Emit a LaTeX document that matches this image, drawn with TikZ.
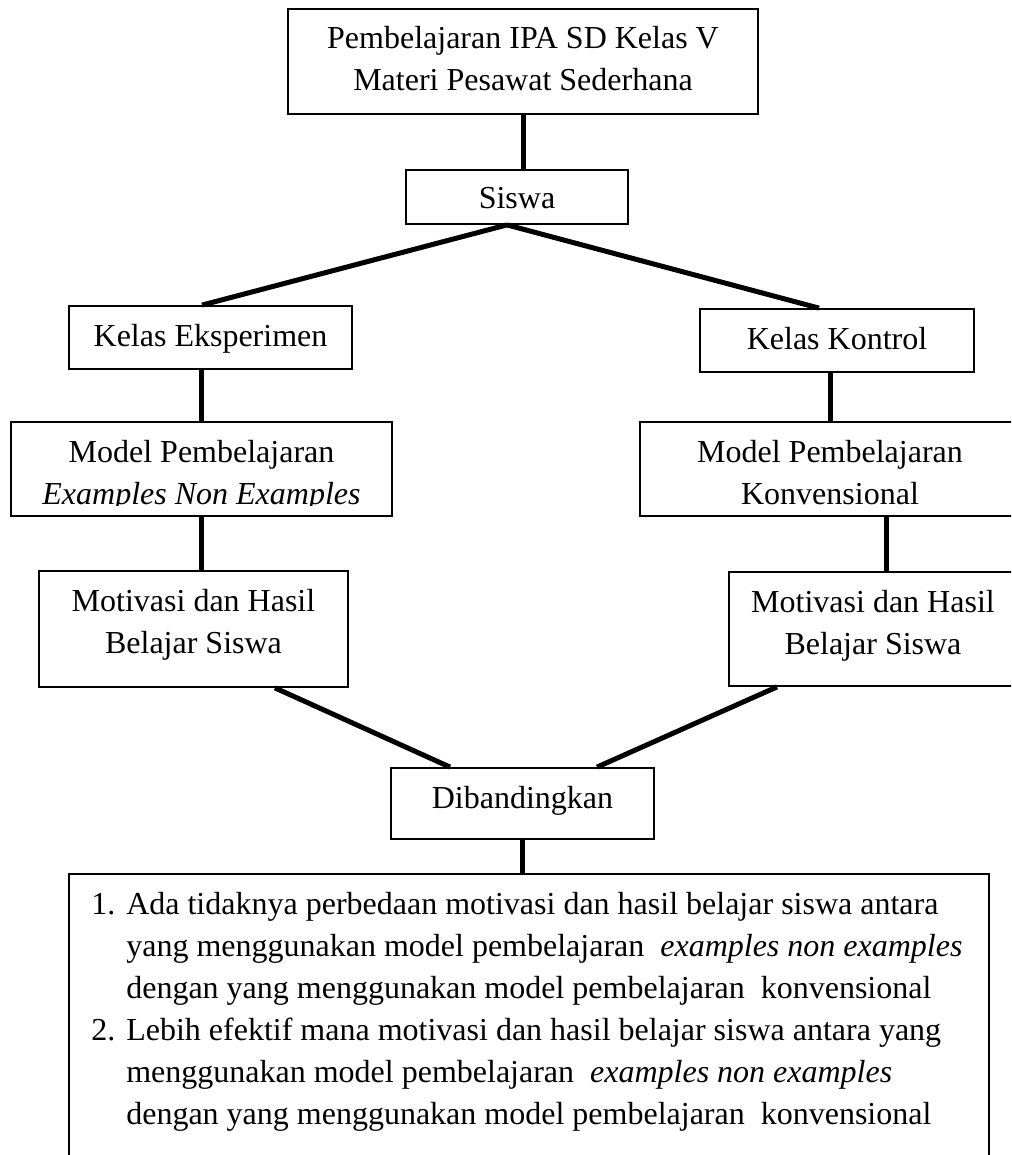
\documentclass[tikz,border=0pt]{standalone}
\usepackage{fontspec}
\setmainfont{Liberation Serif}
\usetikzlibrary{positioning}

\begin{document}
\begin{tikzpicture}[x=1pt, y=-1pt,
    box/.style={draw, line width=1.8pt, inner sep=0pt},
    txt/.style={align=center, inner sep=0pt, font=\fontsize{32}{42}\selectfont},
    link/.style={line width=5pt}]
      \useasboundingbox (0,0) rectangle (1011,1155);
      \clip (0,0) rectangle (1011,1155);

      % kotak
      \node[box, minimum width=470pt, minimum height=105pt] (judul) at (523,61.5) {};
      \node[box, minimum width=222pt, minimum height=54pt] (siswa) at (517,197) {};
      \node[box, minimum width=283pt, minimum height=63pt] (eks) at (210.5,337.5) {};
      \node[box, minimum width=274pt, minimum height=63pt] (kon) at (837,340.5) {};
      \node[box, minimum width=381pt, minimum height=94pt] (meks) at (201.5,469) {};
      \node[box, minimum width=380pt, minimum height=94pt] (mkon) at (830,469) {};
      \node[box, minimum width=309pt, minimum height=116pt] (heks) at (193.5,629) {};
      \node[box, minimum width=288pt, minimum height=114pt] (hkon) at (873,629) {};
      \node[box, minimum width=263pt, minimum height=71pt] (banding) at (522.5,803.5) {};
      \node[box, minimum width=920pt, minimum height=300pt] (hasil) at (529,1024) {};

      % teks
      \node[txt, below=18.5pt of judul.north] (tjudul) {Pembelajaran IPA SD Kelas V\\Materi Pesawat Sederhana};
      \node[txt, below=18.5pt of siswa.north] (tsiswa) {Siswa};
      \node[txt, below=18.5pt of eks.north] (teks) {Kelas Eksperimen};
      \node[txt, below=18.5pt of kon.north] (tkon) {Kelas Kontrol};
      \begin{scope}
        \clip (0,400) rectangle (1011,505);
        \node[txt, below=18.5pt of meks.north] (tmeks) {Model Pembelajaran\\\textit{Examples Non Examples}};
      \end{scope}
      \node[txt, below=18.5pt of mkon.north] (tmkon) {Model Pembelajaran\\Konvensional};
      \node[txt, below=18.5pt of heks.north] (theks) {Motivasi dan Hasil\\Belajar Siswa};
      \node[txt, below=18.5pt of hkon.north] (thkon) {Motivasi dan Hasil\\Belajar Siswa};
      \node[txt, below=18.5pt of banding.north] (tbanding) {Dibandingkan};
      \node[txt, align=left, below right=11.6pt and 23pt of hasil.north west] (thasil) {%
        \begin{tabular}{@{}l@{}l@{}}
          \makebox[35pt][l]{1.} & Ada tidaknya perbedaan motivasi dan hasil belajar siswa antara\\
           & yang menggunakan model pembelajaran \ \textit{examples non examples}\\
           & dengan yang menggunakan model pembelajaran \ konvensional\\
          \makebox[35pt][l]{2.} & Lebih efektif mana motivasi dan hasil belajar siswa antara yang\\
           & menggunakan model pembelajaran \ \textit{examples non examples}\\
           & dengan yang menggunakan model pembelajaran \ konvensional
        \end{tabular}};

      % garis
      \draw[link] (judul.south) -- (judul.south |- siswa.north);
      \draw[link] ([xshift=-10pt]siswa.south) -- ([xshift=-8.5pt]eks.north);
      \draw[link] ([xshift=-10pt]siswa.south) -- ([xshift=-18pt]kon.north);
      \draw[link] (meks.north |- eks.south) -- (meks.north);
      \draw[link] (mkon.north |- kon.south) -- (mkon.north);
      \draw[link] (meks.south) -- (meks.south |- heks.north);
      \draw[link] ([xshift=13pt]hkon.north |- mkon.south) -- ([xshift=13pt]hkon.north);
      \draw[link] ([xshift=81.5pt]heks.south) -- ([xshift=-72.5pt]banding.north);
      \draw[link] ([xshift=-96pt]hkon.south) -- ([xshift=74.5pt]banding.north);
      \draw[link] (banding.south) -- (banding.south |- hasil.north);
    \end{tikzpicture}
\end{document}
